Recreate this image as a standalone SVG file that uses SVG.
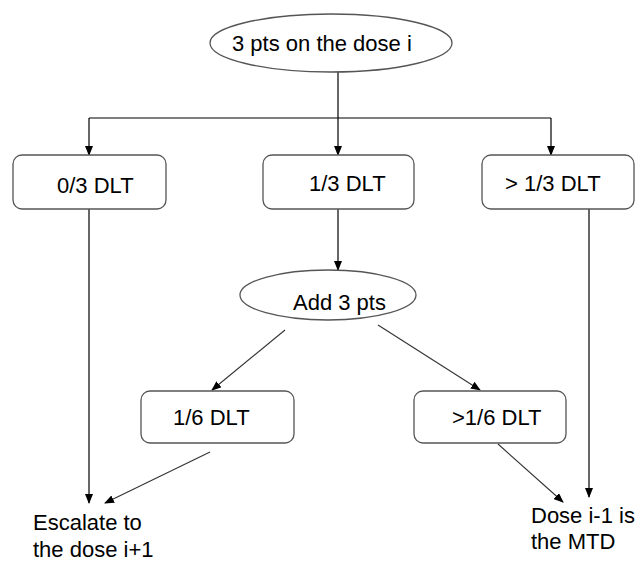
<svg xmlns="http://www.w3.org/2000/svg" width="640" height="564" viewBox="0 0 640 564">
<defs>
<marker id="ah" markerWidth="10" markerHeight="8" refX="9" refY="4" orient="auto" markerUnits="userSpaceOnUse">
<path d="M0,0 L10,4 L0,8 Z" fill="#000"/>
</marker>
<style>
.box{fill:#fff;stroke:#555;stroke-width:1.3}
.t{font-family:"Liberation Sans",Arial,sans-serif;font-size:22px;fill:#000}
.c{fill:none;stroke:#000;stroke-width:1.2}
.d{fill:none;stroke:#333;stroke-width:1.1}
</style>
</defs>
<rect width="640" height="564" fill="#fff"/>
<g id="connectors">
<path class="c" d="M338,72 V118"/>
<path class="c" d="M89,118 H551"/>
<path class="c" d="M89,118 V155" marker-end="url(#ah)"/>
<path class="c" d="M338,118 V155" marker-end="url(#ah)"/>
<path class="c" d="M551,118 V155" marker-end="url(#ah)"/>
<path class="c" d="M338,209 V270" marker-end="url(#ah)"/>
<path class="d" d="M285,330 L212,390" marker-end="url(#ah)"/>
<path class="d" d="M378,325 L480,390" marker-end="url(#ah)"/>
<path class="c" d="M89,209 V503" marker-end="url(#ah)"/>
<path class="d" d="M210,452 L105,503" marker-end="url(#ah)"/>
<path class="d" d="M498,444 L563,502" marker-end="url(#ah)"/>
<path class="c" d="M589,209 V497" marker-end="url(#ah)"/>
</g>
<g id="start">
<ellipse class="box" cx="331" cy="43" rx="121" ry="29"/>
<text class="t" x="232" y="51">3 pts on the dose i</text>
</g>
<g id="dlt0">
<rect class="box" x="13" y="155" width="153" height="54" rx="9"/>
<text class="t" x="57" y="193">0/3 DLT</text>
</g>
<g id="dlt1">
<rect class="box" x="263" y="155" width="151" height="54" rx="9"/>
<text class="t" x="309" y="191">1/3 DLT</text>
</g>
<g id="dltgt">
<rect class="box" x="482" y="155" width="152" height="54" rx="9"/>
<text class="t" x="505" y="191">&gt; 1/3 DLT</text>
</g>
<g id="add">
<ellipse class="box" cx="328" cy="295" rx="88" ry="25"/>
<text class="t" x="293" y="310">Add 3 pts</text>
</g>
<g id="dlt16">
<rect class="box" x="141" y="391" width="153" height="52" rx="9"/>
<text class="t" x="173" y="425">1/6 DLT</text>
</g>
<g id="dltgt16">
<rect class="box" x="414" y="391" width="152" height="52" rx="9"/>
<text class="t" x="452" y="425">&gt;1/6 DLT</text>
</g>
<g id="escalate">
<text class="t" x="33" y="530">Escalate to</text>
<text class="t" x="33" y="557">the dose i+1</text>
</g>
<g id="mtd">
<text class="t" x="531" y="523">Dose i-1 is</text>
<text class="t" x="531" y="549">the MTD</text>
</g>
</svg>
